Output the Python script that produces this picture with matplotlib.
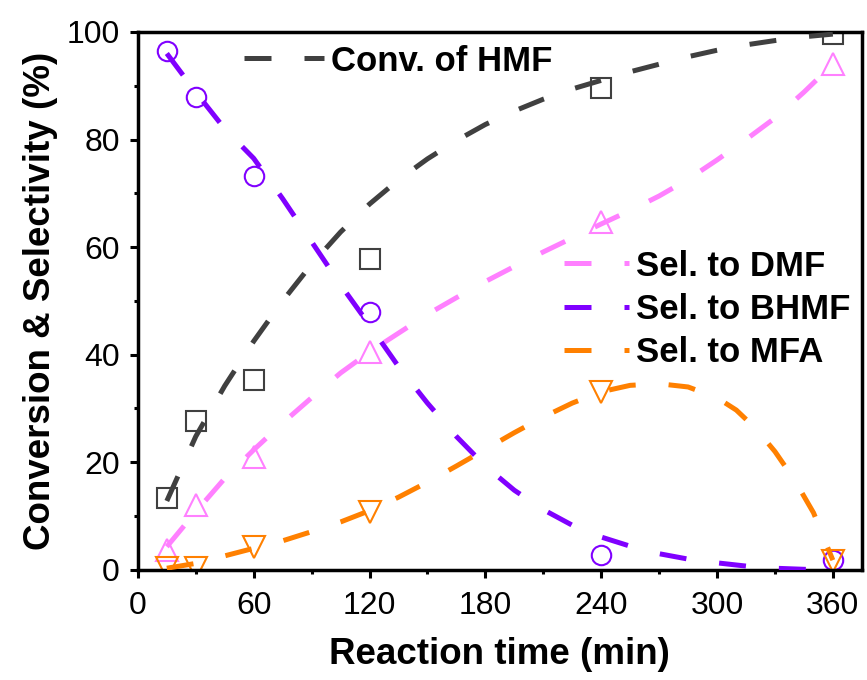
import matplotlib
matplotlib.use("Agg")
import matplotlib.pyplot as plt
from matplotlib.ticker import MultipleLocator

plt.rcParams['font.family'] = ['Liberation Sans', 'DejaVu Sans']

# measured points
t_pts = [15, 30, 60, 120, 240, 360]
conv_hmf = [13.3, 27.6, 35.3, 57.7, 89.6, 99.6]
sel_dmf = [3.6, 12.0, 21.0, 40.5, 64.6, 94.0]
sel_bhmf = [96.5, 88.0, 73.3, 48.0, 2.7, 1.8]
sel_mfa = [0.4, 0.3, 4.2, 10.8, 33.0, 1.6]

# fitted curves
t_fit = [15, 30, 45, 60, 75, 90, 105, 120, 135, 150, 165, 180, 195, 210,
         225, 240, 255, 270, 285, 300, 315, 330, 345, 360]
fit_hmf = [12.8, 24.8, 34.2, 42.5, 50.0, 56.8, 62.8, 68.0, 72.5, 76.4, 79.8,
           82.8, 85.3, 87.5, 89.4, 91.0, 92.6, 94.0, 95.4, 96.6, 97.6, 98.4,
           99.1, 99.6]
fit_dmf = [4.3, 10.8, 17.0, 22.3, 27.3, 32.0, 36.6, 40.5, 44.0, 47.5, 50.6,
           53.6, 56.4, 59.1, 61.7, 64.3, 66.8, 69.5, 72.6, 76.2, 80.0, 84.0,
           88.8, 94.0]
fit_bhmf = [96.0, 88.8, 82.0, 76.5, 69.0, 61.0, 53.0, 45.5, 37.8, 31.0, 24.8,
            19.3, 14.8, 11.2, 8.3, 6.1, 4.4, 3.0, 2.0, 1.3, 0.7, 0.3, 0.1, 0.0]
t_fit_mfa = [15, 30, 45, 60, 75, 90, 105, 120, 135, 150, 165, 180, 195, 210,
             225, 240, 255, 270, 285, 300, 310, 320, 330, 340, 350, 360]
fit_mfa = [0.3, 1.2, 2.6, 4.0, 5.4, 7.1, 8.9, 11.0, 13.5, 16.3, 19.3, 22.4,
           25.5, 28.4, 31.0, 33.1, 34.3, 34.6, 34.0, 32.0, 29.7, 26.3, 22.0,
           16.8, 10.6, 1.8]

c_hmf = '#404040'
c_dmf = '#ff80ff'
c_bhmf = '#8000ff'
c_mfa = '#ff8000'

fig = plt.figure(figsize=(8.67, 6.8), dpi=100)
ax = fig.add_axes([0.159, 0.162, 0.835, 0.791])

dash = (5.4, 6.6)
lw = 3.6
mew = 1.5

series = [
    (t_fit, fit_hmf, conv_hmf, c_hmf, 's', 14, 'Conv. of HMF'),
    (t_fit, fit_dmf, sel_dmf, c_dmf, '^', 16, 'Sel. to DMF'),
    (t_fit, fit_bhmf, sel_bhmf, c_bhmf, 'o', 14, 'Sel. to BHMF'),
    (t_fit_mfa, fit_mfa, sel_mfa, c_mfa, 'v', 16, 'Sel. to MFA'),
]
handles = []
for tf, fit, pts, col, mk, ms, lab in series:
    ax.plot(t_pts, pts, linestyle='none', marker=mk, markersize=ms,
            markerfacecolor='none', markeredgecolor=col, markeredgewidth=mew,
            zorder=2)
    ln, = ax.plot(tf, fit, color=col, lw=lw, dashes=dash, zorder=3,
                  label=lab)
    handles.append(ln)

ax.set_xlim(0, 375)
ax.set_ylim(0, 100)
ax.xaxis.set_major_locator(MultipleLocator(60))
ax.xaxis.set_minor_locator(MultipleLocator(30))
ax.yaxis.set_major_locator(MultipleLocator(20))
ax.yaxis.set_minor_locator(MultipleLocator(10))
ax.tick_params(which='major', direction='out', length=6, width=2.2,
               labelsize=23)
ax.tick_params(which='minor', direction='out', length=3, width=2.2)
ax.tick_params(axis='x', which='major', pad=9)
ax.tick_params(axis='y', which='major', pad=7)
for s in ax.spines.values():
    s.set_linewidth(2.5)

ax.set_xlabel('Reaction time (min)', fontsize=26.5, fontweight='bold',
              labelpad=12)
ax.set_ylabel('Conversion & Selectivity (%)', fontsize=26.5,
              fontweight='bold', labelpad=6)

leg1 = ax.legend(handles=[handles[0]], loc='center left',
                 bbox_to_anchor=(0.128, 0.946), frameon=False,
                 prop={'size': 25, 'weight': 'bold'}, handlelength=2.3,
                 handletextpad=0.2, borderaxespad=0)
ax.add_artist(leg1)
ax.legend(handles=handles[1:], loc='center left',
          bbox_to_anchor=(0.570, 0.484), frameon=False,
          prop={'size': 25, 'weight': 'bold'}, handlelength=1.87,
          handletextpad=0.2, labelspacing=0.3, borderaxespad=0)

fig.savefig('out.png', dpi=100)
